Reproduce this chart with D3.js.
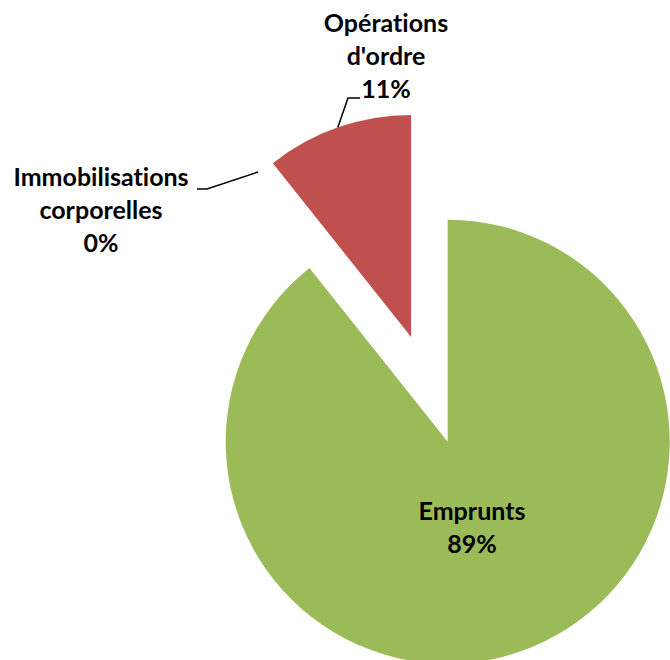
<!DOCTYPE html>
<html>
<head>
<meta charset="utf-8">
<script src="https://cdn.jsdelivr.net/npm/d3@7"></script>
<style>
  body { margin: 0; background: #fff; }
  text { font-family: Lato, "Open Sans", sans-serif; font-weight: bold; fill: #000;
         font-variant-ligatures: none; }
</style>
</head>
<body>
<div id="chart"></div>
<script>
// data (share of the total, in %)
var categories = ["Emprunts", "Immobilisations corporelles", "Opérations d'ordre"];
var values = [89.3, 0, 10.7];
var colors = ["#9BBB59", "#4F81BD", "#C0504D"];
var exploded = [0, 111, 111];

// label lines, as Excel wrapped them
var labelLines = [["Emprunts"], ["Immobilisations", "corporelles"], ["Opérations", "d'ordre"]];
var labelPos = [[472, 520], [101, 186], [386, 32]];
var lineHeight = 33;

var width = 670, height = 660;
var cx = 447.7, cy = 441.7, radius = 222;

var svg = d3.select("#chart")
  .append("svg")
  .attr("width", width)
  .attr("height", height);

var data = categories.map(function(c, i) {
  return { name: c, value: values[i], color: colors[i], explode: exploded[i] };
});

var pie = d3.pie()
  .sort(null)
  .value(function(d) { return d.value; });

var arc = d3.arc()
  .innerRadius(0)
  .outerRadius(radius);

var arcs = pie(data);

function offset(d, dist) {
  var a = (d.startAngle + d.endAngle) / 2;
  return [Math.sin(a) * dist, -Math.cos(a) * dist];
}

var g = svg.append("g")
  .attr("transform", "translate(" + cx + "," + cy + ")");

g.selectAll(".slice")
  .data(arcs.filter(function(d) { return d.value > 0; }))
  .enter().append("path")
  .attr("class", "slice")
  .attr("transform", function(d) {
    var o = offset(d, d.data.explode);
    return "translate(" + o[0] + "," + o[1] + ")";
  })
  .attr("d", arc)
  .attr("fill", function(d) { return d.data.color; });

// leader lines
var redArc = arcs[2];
var redOff = offset(redArc, redArc.data.explode);
var redEdge = offset(redArc, radius);
var redTip = [cx + redOff[0] + redEdge[0], cy + redOff[1] + redEdge[1]];

var leaders = [
  [[360, 98], [348, 98], redTip],
  [[197, 189], [207, 189], [258, 172]]
];

svg.selectAll(".leader")
  .data(leaders)
  .enter().append("path")
  .attr("class", "leader")
  .attr("d", d3.line())
  .attr("fill", "none")
  .attr("stroke", "#000")
  .attr("stroke-width", 1.5);

// data labels
var labels = svg.selectAll(".label")
  .data(arcs)
  .enter().append("text")
  .attr("class", "label")
  .attr("text-anchor", "middle")
  .attr("font-size", "25px")
  .attr("transform", function(d, i) {
    return "translate(" + labelPos[i][0] + "," + labelPos[i][1] + ")";
  });

labels.each(function(d, i) {
  var t = d3.select(this);
  var lines = labelLines[i].concat([Math.round(d.data.value) + "%"]);
  lines.forEach(function(l, j) {
    t.append("tspan")
      .attr("x", 0)
      .attr("y", j * lineHeight)
      .text(l);
  });
});
</script>
</body>
</html>
